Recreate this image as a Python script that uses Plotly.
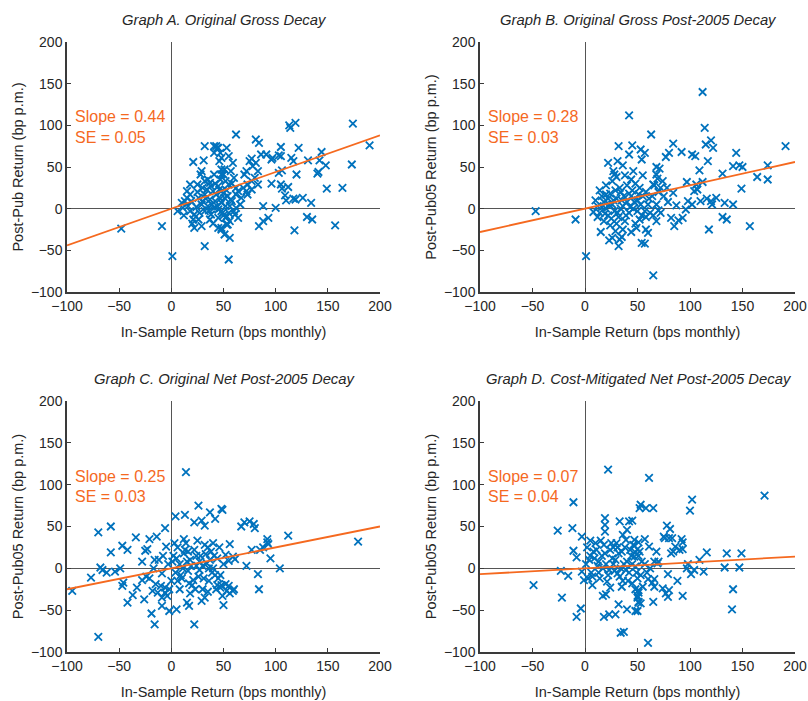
import plotly.graph_objects as go

# ---------------- data ----------------
titles = ["Graph A. Original Gross Decay", "Graph B. Original Gross Post-2005 Decay",
          "Graph C. Original Net Post-2005 Decay", "Graph D. Cost-Mitigated Net Post-2005 Decay"]
ylabels = ["Post-Pub Return (bp p.m.)", "Post-Pub05 Return (bp p.m.)",
           "Post-Pub05 Return (bp p.m.)", "Post-Pub05 Return (bp p.m.)"]
xlabel = "In-Sample Return (bps monthly)"
slopes = [0.44, 0.28, 0.25, 0.07]
ses = [0.05, 0.03, 0.03, 0.04]
tick_vals = [-100, -50, 0, 50, 100, 150, 200]

a_points = [(-48,-24),(-9,-21),(1,-57),(32,-45),(55,-61),
(32,75),(41,75),(43,75),(44,73),(41,67),(48,61),(53,73),(21,56),(31,58),(29,45),(28,41),(32,33),(41,41),(48,41),(51,47),(37,31),(38,27),(25,29),(15,21),(18,17),(13,9),(19,9),(26,13),(32,17),(37,11),(43,17),(48,21),(51,13),(6,-3),(11,1),(18,-3),(22,-7),(21,-13),(26,-13),(32,-3),(38,-7),(37,-13),(45,-11),(41,1),(48,-3),(22,-23),(29,-21),(45,-23),(48,-25),(53,-19),(51,-31),(15,13),(29,5),(35,3),(10,7),(34,23),(40,21),(45,27),(18,29),
(45,73),(47,67),(46,57),(48,47),(50,41),(47,35),(52,33),(55,29),(46,23),(50,19),(54,15),(57,11),(48,7),(52,3),(45,-1),(49,-5),(53,-9),(56,-15),(60,-3),(58,9),(62,25),(60,37),(57,45),(59,55),(55,63),
(24,2),(27,-5),(30,9),(33,12),(36,-2),(39,5),(42,9),(44,3),(47,12),(50,-8),(53,22),(56,3),(35,35),(25,20),(30,25),(42,30),(20,-18),(55,-5),(58,30),(40,-18),(16,3),(12,-8),
(62,89),(113,100),(119,103),(114,97),(174,102),(190,76),(173,53),(164,25),(149,24),(157,-20),(118,-26),(130,-10),(135,-13),(134,7),(126,13),(119,11),(117,12),(110,10),(109,16),(144,68),(142,58),(148,52),(141,44),(140,42),(131,58),(122,73),(120,41),(117,57),(115,61),(105,74),(103,64),(96,59),(97,61),(105,63),(103,43),(106,46),(105,29),(106,24),(112,26),(96,30),(100,1),(88,3),(93,-11),(88,-15),(84,-21),(91,65),(86,65),(81,83),(84,79),(77,60),(75,57),(78,51),(81,55),(83,45),(80,37),(83,29),(77,33),(73,29),(70,41),(72,45),(77,23),(72,21),(73,17),(69,25),(64,21),(67,13),(62,17),(66,5),(62,1),(64,-11),(61,-7),(56,-35),(54,-19),(52,-11),(48,-23)]

b_points = [(-47,-3),(-9,-13),(1,-57),(42,112),(32,75),(45,76),(42,65),(53,71),(22,55),(31,57),(27,45),(28,41),(23,-38),(29,-27),(33,-37),(35,-34),(32,-45),(26,-35),(8,-4),(49,-23),(52,-13),(54,-41),
(10,10),(12,3),(14,-5),(16,15),(18,8),(20,0),(22,-8),(24,18),(26,5),(28,-3),(30,12),(32,-10),(34,20),(36,3),(38,-15),(40,8),(42,-5),(44,15),(46,0),(48,-18),(50,10),(52,25),(54,-8),(14,22),(20,28),(26,33),(30,-18),(36,-25),(40,28),(44,35),(48,30),(18,-15),(24,-20),(15,-28),(34,0),(38,40),(42,18),(46,45),(50,-3),(53,5),(12,-10),(22,12),(33,25),(36,52),(44,-28),(55,15),(55,40),(58,20),(60,5),(62,-5),(58,-10),(64,15),(66,28),(70,20),(75,15),(78,25),(72,-5),(68,5),
(16,2),(19,-6),(23,5),(27,10),(31,-5),(35,10),(39,-8),(43,2),(47,8),(51,17),(57,-3),(25,-12),(29,22),(37,15),(45,22),(61,12),(65,-8),(70,-2),(20,17),(30,38),
(112,140),(114,97),(120,82),(115,77),(122,73),(63,89),(84,78),(80,67),(77,62),(92,68),(102,65),(105,63),(117,57),(109,46),(97,32),(106,29),(104,21),(107,23),(112,32),(131,42),(144,67),(141,51),(147,52),(150,50),(164,38),(174,52),(174,35),(191,75),(149,24),(118,-25),(157,-21),(131,-10),(135,-13),(133,7),(141,5),(125,13),(120,9),(121,5),(116,12),(110,9),(102,5),(98,9),(96,-1),(93,-11),(89,-14),(85,-21),(82,-11),(65,-80),(57,-42),(60,-29),(58,-25),(68,-15),(87,4),(79,8),(84,19),(69,36),(74,33),(72,25),(65,29),(68,41),(71,48),(68,50),(54,59),(57,67)]

c_points = [(-95,-27),(-70,-82),(-70,43),(-58,50),(-77,-11),(-68,1),(-66,-2),(-58,19),(-62,-5),(-54,-4),(-49,0),(-47,27),(-42,22),(-46,-17),(-47,-21),(-42,-41),(-37,-32),(-33,-23),(-34,37),(-28,8),(-25,21),(-23,23),(-21,35),(-14,38),(-26,-37),(-28,-14),(-24,-10),(-21,-12),(-19,-54),(-16,-67),(-18,-27),(-13,-29),(-15,-19),(-10,-21),(-6,-29),(-6,-23),(-9,-35),(-4,-33),(-16,10),(-12,10),(-17,0),(-9,-6),(-5,26),(-6,48),(-9,-45),(-2,-51),(1,8),(4,62),(13,64),(14,115),(5,-49),(15,-41),(17,-45),(22,-67),(29,-39),(32,-35),(22,55),(26,75),(29,57),(32,51),(37,67),(42,59),(48,71),
(2,15),(4,-5),(6,25),(8,5),(10,-12),(12,18),(14,30),(16,-3),(18,10),(20,-20),(22,22),(24,3),(26,-10),(28,15),(30,-25),(32,28),(34,6),(36,-15),(38,20),(40,0),(42,-8),(44,12),(46,25),(48,-20),(50,5),(8,-25),(12,35),(18,-30),(25,33),(35,-28),(40,30),(45,-12),(3,30),(15,8),(27,-2),(33,17),(21,-14),(37,10),(43,-25),(11,0),(6,-15),(30,3),
(-3,5),(0,-15),(5,12),(9,-8),(13,22),(17,-18),(19,3),(23,-25),(27,8),(31,-12),(35,25),(39,-5),(41,15),(47,-8),(-8,15),(-2,-25),(24,15),(44,-20),(36,0),(16,20),
(49,70),(67,50),(70,55),(75,56),(79,53),(80,48),(112,39),(179,32),(92,35),(92,31),(93,29),(88,25),(85,22),(77,22),(95,12),(104,0),(56,29),(52,16),(55,9),(61,11),(59,14),(72,3),(83,-7),(84,-25),(52,-19),(55,-21),(53,-27),(56,-30),(59,-27),(60,-25),(49,-33),(50,-44),(47,-23)]

d_points = [(22,118),(-11,79),(-26,45),(-12,48),(-3,38),(-11,21),(-8,13),(-49,-20),(-22,-35),(-23,-3),(-16,-9),(-3,-4),(-1,-14),(-4,-48),(-8,-58),(7,-20),(19,60),(19,52),(19,44),(33,56),(42,56),(40,46),(36,40),(39,34),(47,34),(53,76),(18,-58),(23,-55),(29,-55),(32,-43),(40,-49),(50,-51),(34,-77),(37,-76),(17,-33),(20,-31),(24,-23),(48,-25),(51,-29),(50,-35),(51,-41),
(2,25),(4,10),(6,-5),(8,20),(10,30),(12,3),(14,-12),(16,15),(18,28),(20,5),(22,-8),(24,22),(26,12),(28,-3),(30,30),(32,18),(34,0),(36,-15),(38,25),(40,8),(42,-5),(44,15),(46,28),(48,2),(50,-12),(52,20),(54,8),(3,-12),(9,12),(15,33),(21,-16),(27,25),(33,-10),(39,-2),(45,-18),(11,22),(17,0),(29,10),(35,20),(41,-15),(47,14),(5,33),
(1,5),(5,15),(7,-10),(13,8),(19,18),(23,-2),(25,30),(27,5),(31,-6),(37,5),(43,22),(49,-5),(53,-8),(13,-5),(31,25),(57,5),(59,-5),(62,0),(45,5),(35,-22),
(61,108),(52,72),(58,72),(65,72),(102,82),(100,69),(171,87),(78,51),(81,47),(75,38),(76,36),(80,36),(83,36),(92,35),(93,31),(90,22),(93,23),(84,20),(86,26),(82,18),(57,35),(51,31),(50,23),(48,19),(51,15),(47,27),(61,26),(68,20),(66,8),(69,6),(70,8),(116,19),(135,18),(149,18),(109,10),(98,5),(97,0),(104,-2),(113,-4),(101,-7),(133,1),(147,1),(88,-15),(79,-7),(141,-25),(140,-49),(93,-33),(77,-30),(79,-34),(80,-26),(74,-24),(66,-22),(60,-13),(66,-13),(64,-17),(55,-22),(51,-26),(50,-33),(51,-40),(53,-42),(48,-51),(65,-40),(60,-89),(45,57)]

panels = [a_points, b_points, c_points, d_points]

# ---------------- layout geometry ----------------
W, H = 808, 701
BLUE = "#0072BD"
ORANGE = "#F5691F"
AXC = "#3a3a3a"
FONT = "Liberation Sans, Arial, Helvetica, sans-serif"

xdoms = [(67 / W, 380 / W), (480 / W, 795 / W)]
ydoms = [(1 - 292 / H, 1 - 42 / H), (1 - 652 / H, 1 - 401 / H)]

fig = go.Figure()
layout = dict(width=W, height=H, margin=dict(l=0, r=0, t=0, b=0),
              paper_bgcolor="white", plot_bgcolor="white", showlegend=False,
              font=dict(family=FONT, color="#262626"))
annotations = []

for i, pts in enumerate(panels):
    r, c = divmod(i, 2)
    sfx = "" if i == 0 else str(i + 1)
    xa, ya = "x" + sfx, "y" + sfx
    xs = [p[0] for p in pts]
    ys = [p[1] for p in pts]
    fig.add_trace(go.Scatter(x=xs, y=ys, mode="markers", xaxis=xa, yaxis=ya,
                             marker=dict(symbol="x-thin", size=7.5, color=BLUE,
                                         line=dict(width=1.8, color=BLUE))))
    lx = [-100, 200]
    ly = [slopes[i] * v for v in lx]
    fig.add_trace(go.Scatter(x=lx, y=ly, mode="lines", xaxis=xa, yaxis=ya,
                             line=dict(color=ORANGE, width=1.8)))
    common = dict(range=[-100, 200], tickvals=tick_vals, ticks="inside", ticklen=4,
                  tickwidth=1.2, tickcolor=AXC, showline=True, linecolor=AXC,
                  linewidth=1.5, showgrid=False, zeroline=True, zerolinecolor="#555555",
                  zerolinewidth=1, tickfont=dict(size=14, color="#262626"),
                  automargin=False, fixedrange=True)
    layout["xaxis" + sfx] = dict(common, domain=list(xdoms[c]), anchor=ya,
                                 title=dict(text=xlabel, font=dict(size=14.5), standoff=14))
    layout["yaxis" + sfx] = dict(common, domain=list(ydoms[r]), anchor=xa,
                                 title=dict(text=ylabels[i], font=dict(size=14.5), standoff=4))
    annotations.append(dict(text="<i>" + titles[i] + "</i>", xref="paper", yref="paper",
                            x=sum(xdoms[c]) / 2 + 1 / W, y=ydoms[r][1] + 22 / H, xanchor="center",
                            yanchor="middle", showarrow=False,
                            font=dict(size=14.8, color="#262626")))
    annotations.append(dict(text=f"Slope = {slopes[i]:.2f}", xref=xa, yref=ya,
                            x=-94, y=110, xanchor="left", yanchor="middle",
                            showarrow=False, font=dict(size=16, color=ORANGE)))
    annotations.append(dict(text=f"SE = {ses[i]:.2f}", xref=xa, yref=ya,
                            x=-94, y=86, xanchor="left", yanchor="middle",
                            showarrow=False, font=dict(size=16, color=ORANGE)))

layout["annotations"] = annotations
fig.update_layout(**layout)
fig.write_html("out.html")
